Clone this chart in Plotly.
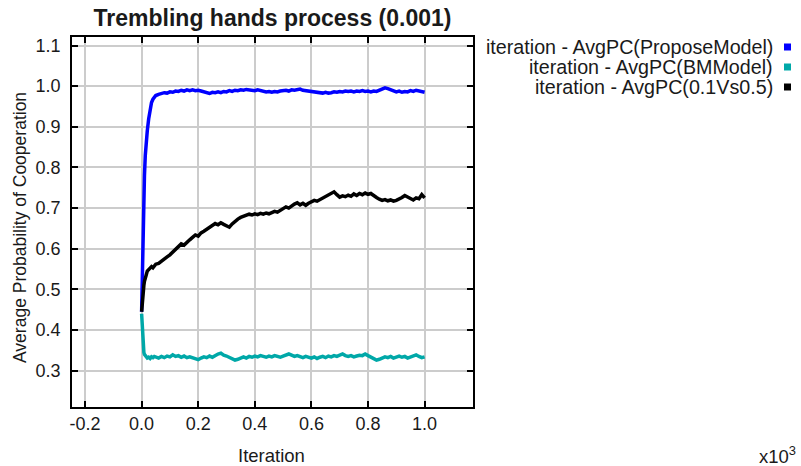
import plotly.graph_objects as go

# Iterations (x axis shown in units of 10^3)
iterations = [0, 2, 4, 6, 8, 10, 13, 16, 20, 25, 30, 35, 40, 45, 50,
              60, 70, 80, 90, 100, 110, 120, 130, 140, 150, 160, 170, 180, 190, 200,
              210, 220, 230, 240, 250, 260, 270, 280, 290, 300, 310, 320, 330, 340, 350,
              360, 370, 380, 390, 400, 410, 420, 430, 440, 450, 460, 470, 480, 490, 500,
              510, 520, 530, 540, 550, 560, 570, 580, 590, 600, 610, 620, 630, 640, 650,
              660, 670, 680, 690, 700, 710, 720, 730, 740, 750, 760, 770, 780, 790, 800,
              810, 820, 830, 840, 850, 860, 870, 880, 890, 900, 910, 920, 930, 940, 950,
              960, 970, 980, 990, 1000]

propose_model = [0.445, 0.54, 0.63, 0.69, 0.74, 0.78, 0.83, 0.865, 0.89, 0.92, 0.945, 0.96, 0.968, 0.974, 0.977,
                 0.980, 0.983, 0.984, 0.983, 0.986, 0.985, 0.988, 0.987, 0.990, 0.988, 0.991, 0.989, 0.991, 0.989, 0.990,
                 0.988, 0.986, 0.983, 0.982, 0.985, 0.984, 0.986, 0.984, 0.987, 0.986, 0.989, 0.987, 0.990, 0.989, 0.991,
                 0.990, 0.992, 0.991, 0.990, 0.989, 0.991, 0.989, 0.988, 0.986, 0.987, 0.985, 0.987, 0.986, 0.988, 0.989,
                 0.990, 0.988, 0.991, 0.990, 0.992, 0.993, 0.990, 0.989, 0.987, 0.988, 0.986, 0.985, 0.984, 0.983, 0.985,
                 0.983, 0.984, 0.986, 0.985, 0.987, 0.986, 0.988, 0.987, 0.988, 0.986, 0.988, 0.987, 0.989, 0.987, 0.988,
                 0.986, 0.988, 0.987, 0.990, 0.993, 0.996, 0.994, 0.991, 0.988, 0.986, 0.988, 0.985, 0.987, 0.986, 0.989,
                 0.987, 0.990, 0.988, 0.987, 0.985]

bm_model = [0.440, 0.41, 0.375, 0.355, 0.345, 0.340, 0.337, 0.334, 0.331, 0.333, 0.330, 0.334, 0.332, 0.335, 0.333,
            0.331, 0.335, 0.332, 0.336, 0.334, 0.339, 0.335, 0.337, 0.333, 0.336, 0.332, 0.334, 0.331, 0.329, 0.327,
            0.331, 0.334, 0.332, 0.336, 0.333, 0.338, 0.341, 0.343, 0.338, 0.336, 0.333, 0.330, 0.326, 0.328, 0.332,
            0.334, 0.331, 0.335, 0.333, 0.336, 0.334, 0.337, 0.335, 0.333, 0.336, 0.334, 0.337, 0.335, 0.333, 0.336,
            0.338, 0.341, 0.338, 0.335, 0.337, 0.334, 0.332, 0.335, 0.333, 0.331, 0.334, 0.330, 0.333, 0.335, 0.332,
            0.336, 0.334, 0.337, 0.335, 0.338, 0.341, 0.337, 0.335, 0.337, 0.334, 0.336, 0.338, 0.337, 0.341, 0.337,
            0.334, 0.330, 0.326, 0.328, 0.331, 0.334, 0.332, 0.335, 0.331, 0.334, 0.336, 0.333, 0.335, 0.331, 0.334,
            0.337, 0.339, 0.335, 0.332, 0.334]

vs_model = [0.445, 0.47, 0.485, 0.50, 0.51, 0.52, 0.525, 0.535, 0.545, 0.548, 0.552, 0.556, 0.553, 0.558, 0.562,
            0.564, 0.570, 0.574, 0.580, 0.585, 0.592, 0.598, 0.605, 0.612, 0.609, 0.617, 0.622, 0.628, 0.634, 0.631,
            0.639, 0.643, 0.648, 0.653, 0.657, 0.662, 0.659, 0.664, 0.660, 0.656, 0.653, 0.661, 0.668, 0.673, 0.677,
            0.680, 0.684, 0.685, 0.683, 0.686, 0.684, 0.687, 0.685, 0.688, 0.686, 0.689, 0.692, 0.690, 0.695, 0.698,
            0.703, 0.700, 0.706, 0.710, 0.713, 0.708, 0.712, 0.707, 0.712, 0.715, 0.719, 0.717, 0.721, 0.725, 0.728,
            0.732, 0.736, 0.740, 0.733, 0.727, 0.730, 0.728, 0.732, 0.729, 0.735, 0.731, 0.736, 0.733, 0.737, 0.734,
            0.736, 0.730, 0.726, 0.722, 0.719, 0.721, 0.718, 0.720, 0.717, 0.719, 0.722, 0.726, 0.731, 0.727, 0.722,
            0.720, 0.725, 0.723, 0.733, 0.725]

series_names = ["iteration - AvgPC(ProposeModel)",
                "iteration - AvgPC(BMModel)",
                "iteration - AvgPC(0.1Vs0.5)"]
series_colors = ["#0000ff", "#00a8a8", "#000000"]

x_tick_vals = [-0.2, 0.0, 0.2, 0.4, 0.6, 0.8, 1.0]
x_tick_text = ["-0.2", "0.0", "0.2", "0.4", "0.6", "0.8", "1.0"]
y_tick_vals = [0.3, 0.4, 0.5, 0.6, 0.7, 0.8, 0.9, 1.0, 1.1]
y_tick_text = ["0.3", "0.4", "0.5", "0.6", "0.7", "0.8", "0.9", "1.0", "1.1"]

x_thousands = [it / 1000 for it in iterations]

FONT = "Liberation Sans, Arial, sans-serif"

fig = go.Figure()
draw_order = [(bm_model, 1), (propose_model, 0), (vs_model, 2)]
for values, idx in draw_order:
    fig.add_trace(go.Scatter(
        x=x_thousands, y=values, mode="lines",
        name=series_names[idx],
        line=dict(color=series_colors[idx], width=3.5),
        showlegend=False,
    ))

L, R, T, B = 72, 328, 37, 59
W, H = 801, 466
pw, ph = W - L - R, H - T - B

def px_x(px):
    return (px - L) / pw

def px_y(py):
    return (H - B - py) / ph

annotations = []
shapes = []
legend_rows = [47, 67, 87]
for i, name in enumerate(series_names):
    annotations.append(dict(
        text=name, xref="paper", yref="paper",
        x=px_x(775), y=px_y(legend_rows[i]), xanchor="right", yanchor="middle",
        showarrow=False, font=dict(family=FONT, size=19.7, color="#1a1a1a")))
    shapes.append(dict(
        type="rect", xref="paper", yref="paper",
        x0=px_x(784), x1=px_x(791), y0=px_y(legend_rows[i] + 3.5), y1=px_y(legend_rows[i] - 3.5),
        fillcolor=series_colors[i], line=dict(width=0)))

annotations.append(dict(
    text="Average Probability of Cooperation", xref="paper", yref="paper",
    x=px_x(20), y=px_y(228), xanchor="center", yanchor="middle", textangle=-90,
    showarrow=False, font=dict(family=FONT, size=17.5, color="#1a1a1a")))
annotations.append(dict(
    text="Iteration", xref="paper", yref="paper",
    x=px_x(271), y=px_y(455), xanchor="center", yanchor="middle",
    showarrow=False, font=dict(family=FONT, size=18.5, color="#1a1a1a")))
annotations.append(dict(
    text="x10<sup>3</sup>", xref="paper", yref="paper",
    x=px_x(798), y=px_y(455), xanchor="right", yanchor="middle",
    showarrow=False, font=dict(family=FONT, size=18.5, color="#1a1a1a")))

axis_common = dict(
    showline=True, linecolor="black", linewidth=1.5, mirror="ticks",
    ticks="inside", ticklen=6, tickwidth=1.5, tickcolor="black",
    showgrid=True, gridcolor="#cccccc", gridwidth=1.5, zeroline=False,
    tickfont=dict(family=FONT, size=18, color="#1a1a1a"),
)

fig.update_layout(
    width=W, height=H,
    margin=dict(l=L, r=R, t=T, b=B, pad=0),
    paper_bgcolor="white", plot_bgcolor="white",
    title=dict(text="<b>Trembling hands process (0.001)</b>", x=0.5, xref="paper",
               y=1 - 18 / H, yref="container", xanchor="center", yanchor="middle",
               font=dict(family=FONT, size=23, color="#1a1a1a")),
    xaxis=dict(range=[-0.246, 1.171], tickvals=x_tick_vals, ticktext=x_tick_text,
               ticklabelstandoff=0, **axis_common),
    yaxis=dict(range=[0.2106, 1.121], tickvals=y_tick_vals, ticktext=y_tick_text,
               ticklabelstandoff=6, **axis_common),
    annotations=annotations, shapes=shapes,
    showlegend=False,
)

fig.write_html("out.html")
